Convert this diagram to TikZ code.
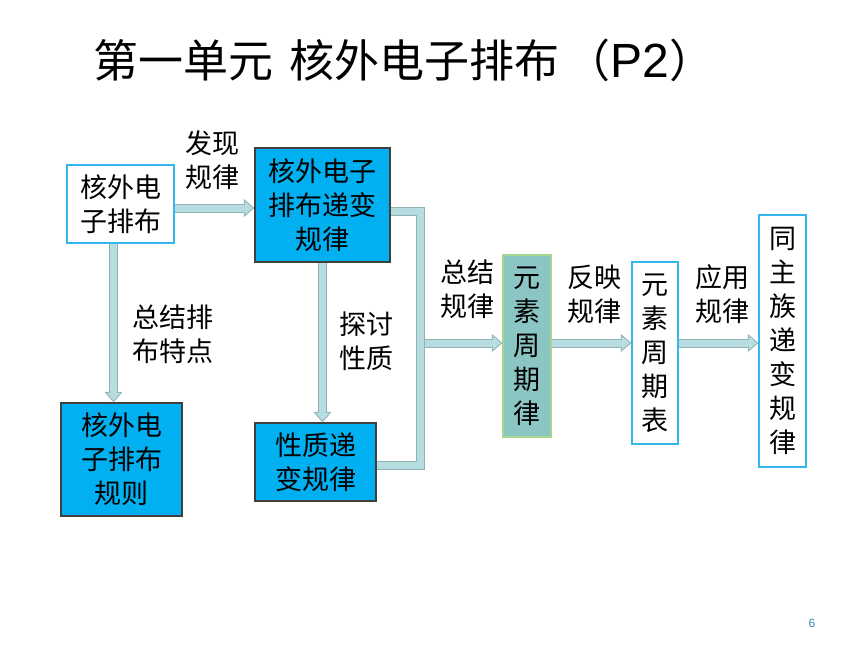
\documentclass[tikz,border=0pt]{standalone}
\usepackage{fontspec}
\setmainfont{Liberation Sans}
\newfontfamily\cjk{Noto Sans CJK SC}
\usetikzlibrary{arrows.meta}
\definecolor{boxblue}{HTML}{00B0F0}
\definecolor{boxdark}{HTML}{3F3F3F}
\definecolor{lightedge}{HTML}{33B8EE}
\definecolor{tealfill}{HTML}{8CC6C4}
\definecolor{greenedge}{HTML}{A6D68E}
\definecolor{arrfill}{HTML}{B7DDE0}
\definecolor{arrline}{HTML}{8FB2B4}
\definecolor{pagenum}{HTML}{2F8AB5}
\tikzset{
  txt/.style={font=\cjk\fontsize{27}{34}\selectfont, align=center, inner sep=0pt},
  boxw/.style={txt, draw=lightedge, fill=white, line width=1.2pt},
  boxb/.style={txt, draw=boxdark, fill=boxblue, line width=1.2pt},
  boxt/.style={txt, draw=greenedge, fill=tealfill, line width=1.2pt},
  lbl/.style={txt},
  barline/.style={draw=arrfill, line width=7pt, line join=miter,
    preaction={draw=arrline, line width=9pt, line join=miter}},
  arr/.style={draw=arrfill, line width=7pt, shorten >=1.5pt,
    -{Triangle[length=8pt,width=13.6pt,line width=0pt]},
    preaction={draw=arrline, line width=9pt, shorten >=0pt,
      -{Triangle[length=10.5pt,width=18pt,line width=0pt]}}},
}
\begin{document}
\begin{tikzpicture}[x=1pt,y=-1pt]
\useasboundingbox (0,0) rectangle (860,645);
% title
\node[anchor=west, inner sep=0pt, font=\fontsize{45}{50}\selectfont] (title) at (93,60)
  {{\cjk 第一单元}\hspace{16pt}{\cjk 核外电子排布}\kern6pt{\cjk （}{\fontsize{48}{50}\selectfont P2}\kern1pt{\cjk ）}};
% boxes
\node[boxw, minimum width=107pt, minimum height=78pt] (b1) at (120.5,204) {核外电\\子排布};
\node[boxb, minimum width=135pt, minimum height=114pt] (b2) at (322.5,205) {核外电子\\排布递变\\规律};
\node[boxb, minimum width=121pt, minimum height=113pt] (b3) at (121.5,459.5) {核外电\\子排布\\规则};
\node[boxb, minimum width=121pt, minimum height=78pt] (b4) at (315.5,462) {性质递\\变规律};
\node[boxt, minimum width=48pt, minimum height=182pt] (b5) at (527,346) {元\\素\\周\\期\\律};
\node[boxw, minimum width=46pt, minimum height=182pt] (b6) at (655,353) {元\\素\\周\\期\\表};
\node[boxw, minimum width=47pt, minimum height=252pt] (b7) at (782.5,341) {同\\主\\族\\递\\变\\规\\律};
% labels
\node[lbl] (l1) at (212,160) {发现\\规律};
\node[lbl] (l2) at (173,334) {总结排\\布特点};
\node[lbl] (l3) at (366,341) {探讨\\性质};
\node[lbl] (l4) at (467,289) {总结\\规律};
\node[lbl] (l5) at (594,294) {反映\\规律};
\node[lbl] (l6) at (722,294) {应用\\规律};
% page number
\node[inner sep=0pt, font=\fontsize{12}{14}\selectfont, text=pagenum] (pn) at (812,623) {6};
% connectors
\coordinate (jn) at (420,343);
\draw[barline] ([yshift=-6pt]b2.east) -| (jn) |- ([yshift=-3pt]b4.east);
\draw[arr] ([yshift=-4pt]b1.east) -- ([yshift=-4pt]b1.east -| b2.west);
\draw[arr] ([xshift=-7pt]b1.south) -- ([xshift=-7pt]b1.south |- b3.north);
\draw[arr] (b2.south) -- (b2.south |- b4.north);
\draw[arr] ([xshift=4.5pt]jn) -- (jn -| b5.west);
\draw[arr] (jn -| b5.east) -- (jn -| b6.west);
\draw[arr] (jn -| b6.east) -- (jn -| b7.west);
\end{tikzpicture}
\end{document}
